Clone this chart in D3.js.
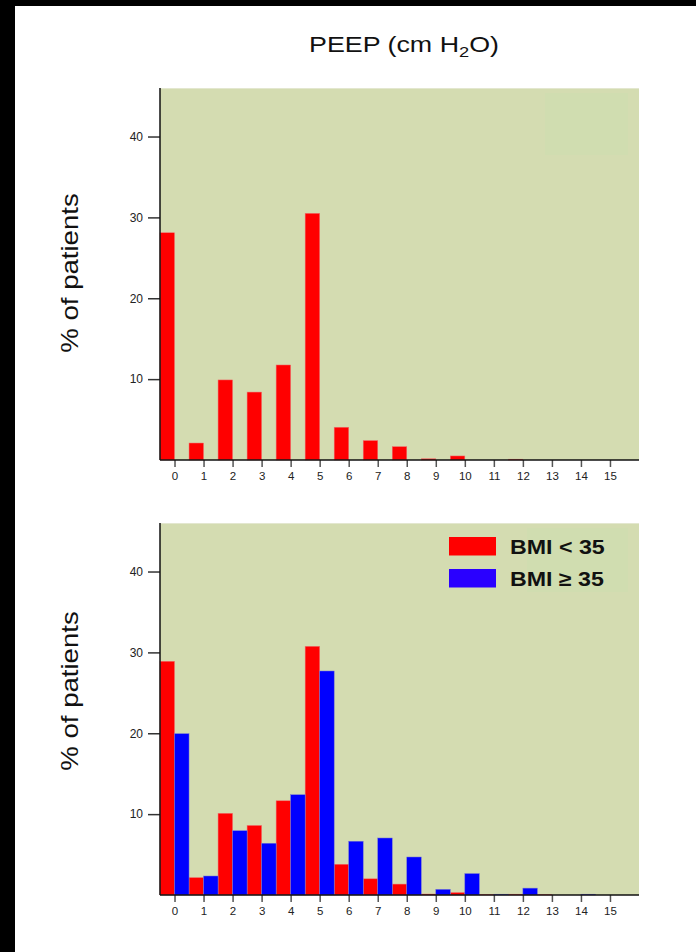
<!DOCTYPE html>
<html>
<head>
<meta charset="utf-8">
<script src="https://cdn.jsdelivr.net/npm/d3@7"></script>
<style>
  body { margin: 0; background: #fff; }
  svg { display: block; }
  text { font-family: Arial, "Liberation Sans", sans-serif; }
</style>
</head>
<body>
<div id="main"></div>
<script>
///////////
// DATA  //
///////////

const peep = d3.range(0, 16)   // 0 .. 15 cm H2O
const yTicks = [10, 20, 30, 40]

// top panel: all patients
const allPatients = [28.1, 2.1, 9.9, 8.4, 11.75, 30.5, 4.05, 2.4, 1.65, 0.15, 0.5, 0, 0.1, 0, 0, 0]

// bottom panel
const bmiUnder35 = [28.9, 2.15, 10.1, 8.6, 11.65, 30.75, 3.8, 2.0, 1.35, 0.12, 0.3, 0.05, 0.1, 0.05, 0, 0]
const bmiOver35  = [19.95, 2.35, 7.95, 6.4, 12.4, 27.7, 6.65, 7.05, 4.7, 0.7, 2.65, 0.1, 0.85, 0, 0.1, 0]

const legendLabels = ["BMI < 35", "BMI \u2265 35"]

///////////
// SETUP //
///////////

const width = 696
const height = 952

const bg = '#d4dcb1'
const red = '#ff0000'
const blue = '#0000ff'

let svg = d3.select("#main").append("svg")
    .attr("width", width)
    .attr("height", height)

// black frame strips (top + left)
svg.append("rect").attr("x", 0).attr("y", 0).attr("width", width).attr("height", 6).attr("fill", "#000")
svg.append("rect").attr("x", 0).attr("y", 0).attr("width", 15).attr("height", height).attr("fill", "#000")

// title (original glyphs are a bit wider than Arial, so stretch horizontally)
let title = svg.append("text")
    .attr("transform", "translate(404,52) scale(1.22,1)")
    .attr("text-anchor", "middle")
    .attr("font-size", 22)
    .attr("fill", "#111")
title.append("tspan").text("PEEP (cm H")
title.append("tspan").text("2").attr("font-size", 15).attr("dy", 5)
title.append("tspan").text("O)").attr("dy", -5)

let x = d3.scaleLinear()
    .domain([-0.5, 16])
    .range([160, 639])

//////////
// DRAW //
//////////

function draw_panel(top, bottom, series, colors, labelY, legend) {
    let y = d3.scaleLinear().domain([0, 46]).range([bottom, top])
    let g = svg.append("g")

    g.append("rect")
        .attr("x", x(-0.5)).attr("y", top)
        .attr("width", x(16) - x(-0.5)).attr("height", bottom - top)
        .attr("fill", bg)
    g.append("line")
        .attr("x1", x(-0.5)).attr("x2", x(16))
        .attr("y1", top + 0.5).attr("y2", top + 0.5)
        .attr("stroke", "#e3e7cf")

    // faint lighter box in the upper right (legend backdrop)
    g.append("rect")
        .attr("x", legend ? 527 : 545).attr("y", top + 5)
        .attr("width", legend ? 101 : 83).attr("height", legend ? 64 : 62)
        .attr("fill", "#d0ddb0")

    // bars: first series sits left of the tick, second right of it
    series.forEach((vals, si) => {
        g.selectAll(null)
            .data(peep)
            .enter().append("rect")
                .attr("x", d => x(d - 0.5 + si * 0.5))
                .attr("y", d => y(vals[d]))
                .attr("width", x(0.5) - x(0))
                .attr("height", d => y(0) - y(vals[d]))
                .attr("fill", colors[si])
                .attr("stroke", si == 0 ? "#f07070" : "#7a7ad0")
                .attr("stroke-width", d => vals[d] > 0 ? 0.5 : 0)
    })

    // y axis
    let yAxis = d3.axisLeft(y)
        .tickValues(yTicks)
        .tickSize(12)
        .tickPadding(5)
    let ya = g.append("g")
        .attr("transform", `translate(${x(-0.5)},0)`)
        .call(yAxis)
    ya.select(".domain").remove()
    ya.selectAll(".tick line").attr("stroke", "#333").attr("stroke-width", 1.5)
    ya.selectAll(".tick text").attr("font-size", 12).attr("fill", "#222")
        .attr("font-family", "Arial, 'Liberation Sans', sans-serif")

    // x axis
    let xAxis = d3.axisBottom(x)
        .tickValues(peep)
        .tickSize(7)
        .tickPadding(5)
    let xa = g.append("g")
        .attr("transform", `translate(0,${bottom})`)
        .call(xAxis)
    xa.select(".domain").remove()
    xa.selectAll(".tick line").attr("stroke", "#555").attr("stroke-width", 1.5)
    xa.selectAll(".tick text").attr("font-size", 11.5).attr("fill", "#222")
        .attr("font-family", "Arial, 'Liberation Sans', sans-serif")

    // axis lines
    g.append("line")
        .attr("x1", x(-0.5)).attr("x2", x(-0.5))
        .attr("y1", top).attr("y2", bottom)
        .attr("stroke", "#111").attr("stroke-width", 1.5)
    g.append("line")
        .attr("x1", x(-0.5)).attr("x2", x(16))
        .attr("y1", bottom).attr("y2", bottom)
        .attr("stroke", "#111").attr("stroke-width", 1.5)

    // y label
    g.append("text")
        .attr("transform", `translate(78,${labelY}) rotate(-90) scale(1.2,1)`)
        .attr("text-anchor", "middle")
        .attr("font-size", 23)
        .attr("fill", "#111")
        .text("% of patients")

    if (legend) {
        let lg = g.append("g")
        legendLabels.forEach((lab, i) => {
            lg.append("rect")
                .attr("x", 449).attr("y", 537 + i * 32)
                .attr("width", 47).attr("height", 18.5)
                .attr("fill", i == 0 ? red : '#2a00ff')
            lg.append("text")
                .attr("transform", `translate(510,${553.5 + i * 32}) scale(1.16,1)`)
                .attr("font-size", 20)
                .attr("font-weight", "bold")
                .attr("fill", "#111")
                .text(lab)
        })
    }
}

draw_panel(88, 460, [allPatients], [red], 273, false)
draw_panel(523, 895, [bmiUnder35, bmiOver35], [red, blue], 691, true)
</script>
</body>
</html>
